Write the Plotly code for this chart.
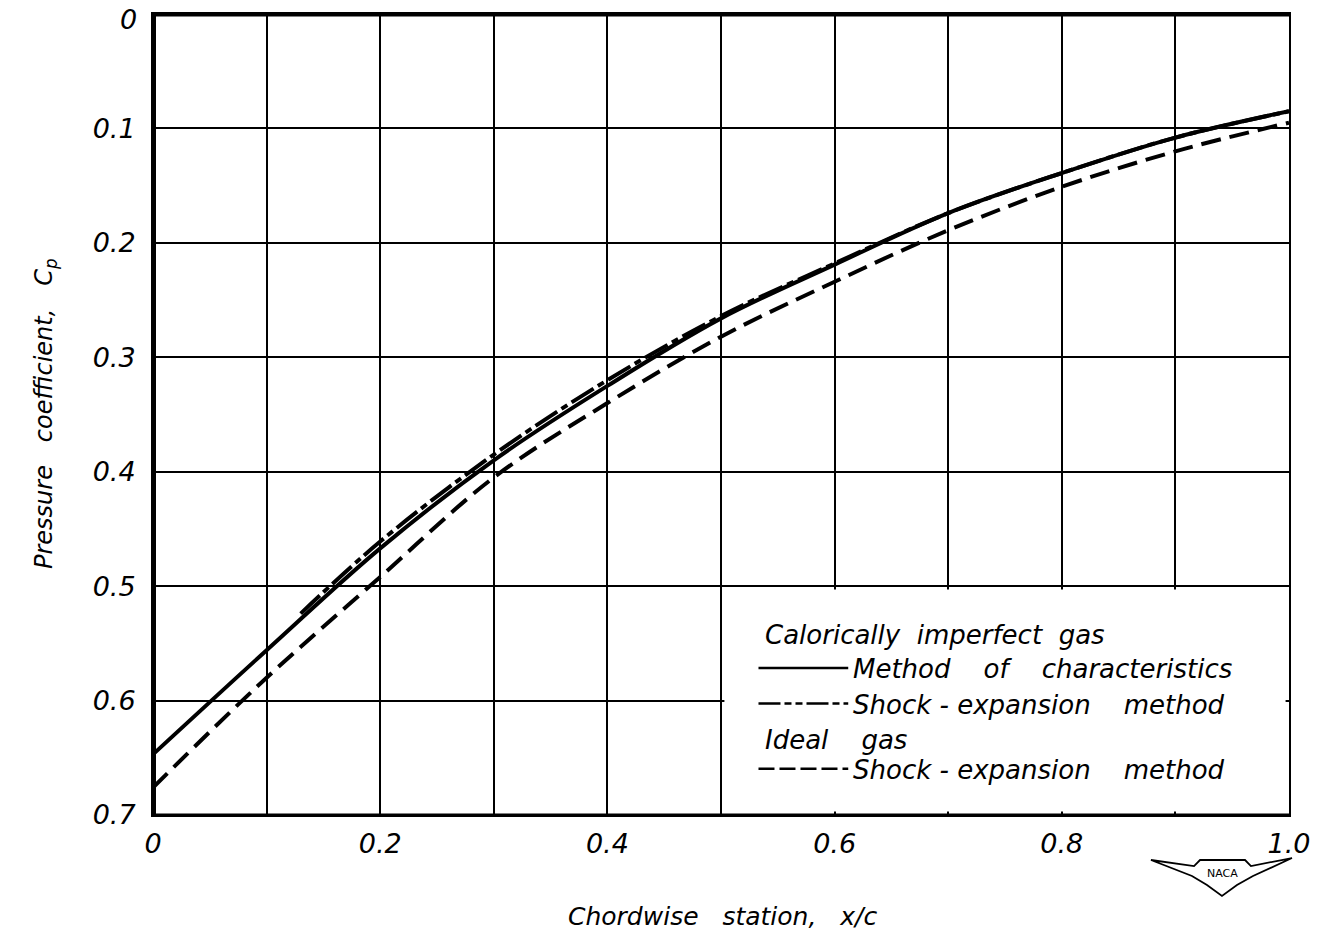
import plotly.graph_objects as go

# Chordwise stations and pressure coefficients
x_moc = [0.0, 0.1, 0.2, 0.3, 0.4, 0.5, 0.6, 0.7, 0.8, 0.9, 1.0]
cp_moc = [0.647, 0.556, 0.467, 0.390, 0.325, 0.266, 0.219, 0.174, 0.139, 0.108, 0.085]

x_se_imperfect = [0.13, 0.2, 0.3, 0.4, 0.5, 0.6, 0.7, 0.8, 0.9, 1.0]
cp_se_imperfect = [0.524, 0.461, 0.385, 0.320, 0.264, 0.218, 0.174, 0.139, 0.108, 0.085]

x_se_ideal = [0.0, 0.1, 0.2, 0.3, 0.4, 0.5, 0.6, 0.7, 0.8, 0.9, 1.0]
cp_se_ideal = [0.676, 0.580, 0.492, 0.405, 0.340, 0.282, 0.234, 0.189, 0.151, 0.120, 0.095]

x_tick_vals = [0.0, 0.2, 0.4, 0.6, 0.8, 1.0]
x_tick_text = ["0", "0.2", "0.4", "0.6", "0.8", "1.0"]
x_minor_vals = [0.1, 0.3, 0.5, 0.7, 0.9]
y_tick_vals = [0.1, 0.2, 0.3, 0.4, 0.5, 0.6, 0.7]
y_tick_text = ["0.1", "0.2", "0.3", "0.4", "0.5", "0.6", "0.7"]
y_top_label = "0"

FONT = "DejaVu Sans"
W, H = 1319, 942
ML, MR, MT, MB = 153, 30, 14, 127
PW, PH = W - ML - MR, H - MT - MB


def px(x):
    return (x - ML) / PW


def py(y):
    return (H - MB - y) / PH


fig = go.Figure()

fig.add_trace(go.Scatter(
    x=x_se_imperfect, y=cp_se_imperfect, mode="lines",
    line=dict(color="black", width=4, dash="26px,5px,7px,5px", shape="spline"),
    showlegend=False, hoverinfo="skip"))
fig.add_trace(go.Scatter(
    x=x_se_ideal, y=cp_se_ideal, mode="lines",
    line=dict(color="black", width=4, dash="20px,9px", shape="spline"),
    showlegend=False, hoverinfo="skip"))
fig.add_trace(go.Scatter(
    x=x_moc, y=cp_moc, mode="lines",
    line=dict(color="black", width=4, shape="spline"),
    showlegend=False, hoverinfo="skip"))

shapes = []
# blank panel behind the key (hides the grid there)
shapes.append(dict(type="rect", xref="x", yref="y", x0=0.503, x1=0.997, y0=0.503, y1=0.697,
                   fillcolor="white", line=dict(width=0), layer="between"))
# frame: heavy left and top edges
shapes.append(dict(type="line", xref="x", yref="y", x0=0, x1=0, y0=-0.003, y1=0.7,
                   line=dict(color="black", width=6)))
shapes.append(dict(type="line", xref="x", yref="y", x0=0, x1=1.0, y0=0, y1=0,
                   line=dict(color="black", width=5)))
shapes.append(dict(type="line", xref="x", yref="y", x0=0, x1=1.0, y0=0.7, y1=0.7,
                   line=dict(color="black", width=3)))

# key line samples
key_x0, key_x1 = 0.533, 0.612
shapes.append(dict(type="line", xref="x", yref="y", x0=key_x0, x1=key_x1, y0=0.5715, y1=0.5715,
                   line=dict(color="black", width=2.5)))
shapes.append(dict(type="line", xref="x", yref="y", x0=key_x0, x1=key_x1, y0=0.6025, y1=0.6025,
                   line=dict(color="black", width=2.5, dash="22px,4px,7px,4px,7px,4px")))
shapes.append(dict(type="line", xref="x", yref="y", x0=key_x0, x1=key_x1, y0=0.6595, y1=0.6595,
                   line=dict(color="black", width=2.5, dash="16px,5px")))

# NACA emblem below the lower right corner
wing = [(1151, 860), (1194, 866), (1200, 860), (1245, 860), (1251, 866), (1292, 858),
        (1253, 876), (1237, 885), (1222, 896), (1207, 885), (1192, 876)]
path = "M " + " L ".join(f"{px(a):.4f},{py(b):.4f}" for a, b in wing) + " Z"
shapes.append(dict(type="path", xref="paper", yref="paper", path=path,
                   fillcolor="white", line=dict(color="black", width=1.8)))

annotations = []
font_key = dict(family=FONT, size=26, color="black", style="italic")
sp = "\u00a0"
key_rows = [
    (0.537, 0.5425, f"Calorically{sp * 2}imperfect{sp * 2}gas"),
    (0.614, 0.5725, f"Method{sp * 4}of{sp * 4}characteristics"),
    (0.614, 0.6035, f"Shock{sp}-{sp}expansion{sp * 4}method"),
    (0.537, 0.6345, f"Ideal{sp * 4}gas"),
    (0.614, 0.6605, f"Shock{sp}-{sp}expansion{sp * 4}method"),
]
for kx, ky, txt in key_rows:
    annotations.append(dict(x=kx, y=ky, xref="x", yref="y", text=txt, showarrow=False,
                            xanchor="left", yanchor="middle", font=font_key))

tick_font = dict(family=FONT, size=27, color="black", style="italic")
# label for the top of the Cp scale, set just inside the page edge
annotations.append(dict(x=0, y=0, xref="x", yref="y", text=y_top_label, showarrow=False,
                        xanchor="right", yanchor="middle", xshift=-14, yshift=-5,
                        font=tick_font))

annotations.append(dict(x=px(722), y=py(916), xref="paper", yref="paper",
                        text="Chordwise   station,   x/c", showarrow=False,
                        xanchor="center", yanchor="middle",
                        font=dict(family=FONT, size=25, color="black", style="italic")))
annotations.append(dict(x=px(45), y=py(414), xref="paper", yref="paper",
                        text="Pressure   coefficient,   C<sub>p</sub>", showarrow=False,
                        textangle=-90, xanchor="center", yanchor="middle",
                        font=dict(family=FONT, size=24, color="black", style="italic")))
annotations.append(dict(x=px(1222), y=py(873), xref="paper", yref="paper",
                        text="NACA", showarrow=False, xanchor="center", yanchor="middle",
                        font=dict(family=FONT, size=11, color="black")))

fig.update_layout(
    width=W, height=H,
    margin=dict(l=ML, r=MR, t=MT, b=MB, autoexpand=False),
    paper_bgcolor="white", plot_bgcolor="white",
    showlegend=False,
    shapes=shapes, annotations=annotations,
    xaxis=dict(range=[0, 1.0], tickmode="array", tickvals=x_tick_vals, ticktext=x_tick_text,
               showgrid=True, gridcolor="black", gridwidth=2, zeroline=False,
               minor=dict(tickmode="array", tickvals=x_minor_vals, showgrid=True,
                          gridcolor="black", gridwidth=2, ticks=""),
               showline=True, linecolor="black", linewidth=2, mirror=True,
               ticks="", ticklabelstandoff=4, automargin=False, ticklabeloverflow="allow",
               tickfont=tick_font),
    yaxis=dict(range=[0.7, 0], tickmode="array", tickvals=y_tick_vals, ticktext=y_tick_text,
               showgrid=True, gridcolor="black", gridwidth=2, zeroline=False,
               showline=True, linecolor="black", linewidth=2, mirror=True,
               ticks="", ticklabelstandoff=10, automargin=False, ticklabeloverflow="allow",
               tickfont=tick_font),
)

fig.write_html("out.html")
